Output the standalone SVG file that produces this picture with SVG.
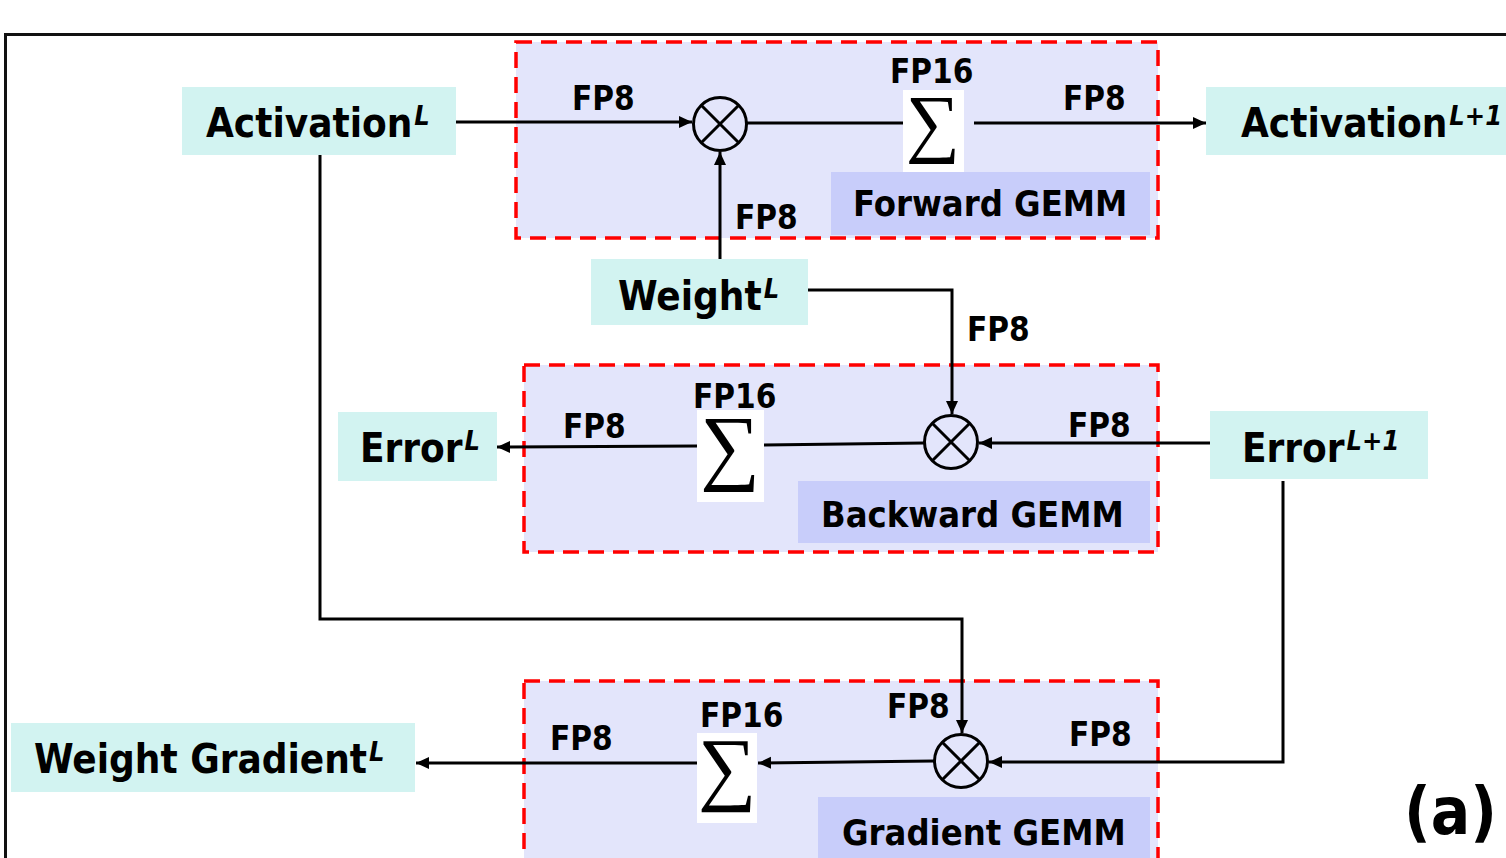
<svg xmlns="http://www.w3.org/2000/svg" width="1506" height="858" viewBox="0 0 1506 858">
<style>
.t{font-family:'DejaVu Sans Condensed','DejaVu Sans',sans-serif;font-weight:bold;font-stretch:condensed;fill:#000}
.nd{font-size:40px}
.sup{font-size:27px;font-style:italic}
.fp{font-size:33px}
.gm{font-size:36px}
.cy{fill:#d2f3f1}
.bl{fill:#c8cdfa}
.gb{fill:#e3e5fb;stroke:#ff0000;stroke-width:3.5;stroke-dasharray:16 9}
.ln{fill:none;stroke:#000;stroke-width:3}
.sg{fill:#fff}
.sgt{font-family:'Liberation Serif','DejaVu Serif',serif;text-anchor:middle;fill:#000}
</style>
<defs>
<marker id="ah" markerUnits="userSpaceOnUse" markerWidth="14" markerHeight="14" refX="13" refY="7" orient="auto">
<path d="M0,1 L13,7 L0,13 z" fill="#000"/>
</marker>
</defs>
<rect width="1506" height="858" fill="#fff"/>
<path d="M5.5,858 V34.5 H1506" fill="none" stroke="#111" stroke-width="3"/>

<g id="forward-gemm">
<rect class="gb" x="516" y="42" width="642" height="196"/>
<rect class="bl" x="831" y="172" width="319" height="63"/>
<text class="t gm" x="853" y="216">Forward GEMM</text>
</g>
<g id="backward-gemm">
<rect class="gb" x="524" y="365" width="634" height="187"/>
<rect class="bl" x="798" y="481" width="352" height="62"/>
<text class="t gm" x="821" y="527">Backward GEMM</text>
</g>
<g id="gradient-gemm">
<rect class="gb" x="524" y="681" width="634" height="200"/>
<rect class="bl" x="818" y="797" width="332" height="70"/>
<text class="t gm" x="842" y="845">Gradient GEMM</text>
</g>

<g id="connectors">
<path class="ln" d="M456,122 H692" marker-end="url(#ah)"/>
<path class="ln" d="M747,123 H903"/>
<path class="ln" d="M974,123 H1206" marker-end="url(#ah)"/>
<path class="ln" d="M720,259 V152" marker-end="url(#ah)"/>
<path class="ln" d="M797,290 H952 V414" marker-end="url(#ah)"/>
<path class="ln" d="M1210,443 H979" marker-end="url(#ah)"/>
<path class="ln" d="M924,443 L764,445"/>
<path class="ln" d="M697,446 L497,447" marker-end="url(#ah)"/>
<path class="ln" d="M320,155 V619 H962 V733" marker-end="url(#ah)"/>
<path class="ln" d="M1283,481 V762 H989" marker-end="url(#ah)"/>
<path class="ln" d="M934,761 L758,763" marker-end="url(#ah)"/>
<path class="ln" d="M697,763 H416" marker-end="url(#ah)"/>
</g>

<g id="mul-forward">
<circle class="ln" cx="720" cy="124" r="26.5"/>
<path class="ln" d="M701,105 L739,143 M739,105 L701,143"/>
</g>
<g id="mul-backward">
<circle class="ln" cx="951" cy="442" r="26.5"/>
<path class="ln" d="M932,423 L970,461 M970,423 L932,461"/>
</g>
<g id="mul-gradient">
<circle class="ln" cx="961" cy="761" r="26.5"/>
<path class="ln" d="M942,742 L980,780 M980,742 L942,780"/>
</g>

<g id="sum-forward">
<rect class="sg" x="903" y="90" width="61" height="82"/>
<text class="sgt" x="933" y="148" font-size="76">∑</text>
</g>
<g id="sum-backward">
<rect class="sg" x="697" y="410" width="67" height="92"/>
<text class="sgt" x="730" y="474" font-size="84">∑</text>
</g>
<g id="sum-gradient">
<rect class="sg" x="697" y="733" width="60" height="90"/>
<text class="sgt" x="727" y="795" font-size="82">∑</text>
</g>

<g id="activation-l">
<rect class="cy" x="182" y="87" width="274" height="68"/>
<text class="t nd" x="206" y="137">Activation<tspan class="sup" dx="2" dy="-12">L</tspan></text>
</g>
<g id="activation-l1">
<rect class="cy" x="1206" y="87" width="310" height="68"/>
<text class="t nd" x="1241" y="137">Activation<tspan class="sup" dx="2" dy="-12">L+1</tspan></text>
</g>
<g id="weight-l">
<rect class="cy" x="591" y="259" width="217" height="66"/>
<text class="t nd" x="618" y="310">Weight<tspan class="sup" dx="2" dy="-12">L</tspan></text>
</g>
<g id="error-l">
<rect class="cy" x="338" y="412" width="159" height="69"/>
<text class="t nd" x="360" y="462">Error<tspan class="sup" dx="2" dy="-12">L</tspan></text>
</g>
<g id="error-l1">
<rect class="cy" x="1210" y="411" width="218" height="68"/>
<text class="t nd" x="1242" y="462">Error<tspan class="sup" dx="2" dy="-12">L+1</tspan></text>
</g>
<g id="weight-gradient-l">
<rect class="cy" x="11" y="723" width="404" height="69"/>
<text class="t nd" x="34" y="773">Weight Gradient<tspan class="sup" dx="2" dy="-12">L</tspan></text>
</g>

<g id="labels">
<text class="t fp" x="572" y="110">FP8</text>
<text class="t fp" x="890" y="83">FP16</text>
<text class="t fp" x="1063" y="110">FP8</text>
<text class="t fp" x="735" y="229">FP8</text>
<text class="t fp" x="967" y="341">FP8</text>
<text class="t fp" x="693" y="408">FP16</text>
<text class="t fp" x="563" y="438">FP8</text>
<text class="t fp" x="1068" y="437">FP8</text>
<text class="t fp" x="700" y="727">FP16</text>
<text class="t fp" x="887" y="718">FP8</text>
<text class="t fp" x="1069" y="746">FP8</text>
<text class="t fp" x="550" y="750">FP8</text>
<text class="t" x="1404" y="834" font-size="65">(a)</text>
</g>
</svg>
